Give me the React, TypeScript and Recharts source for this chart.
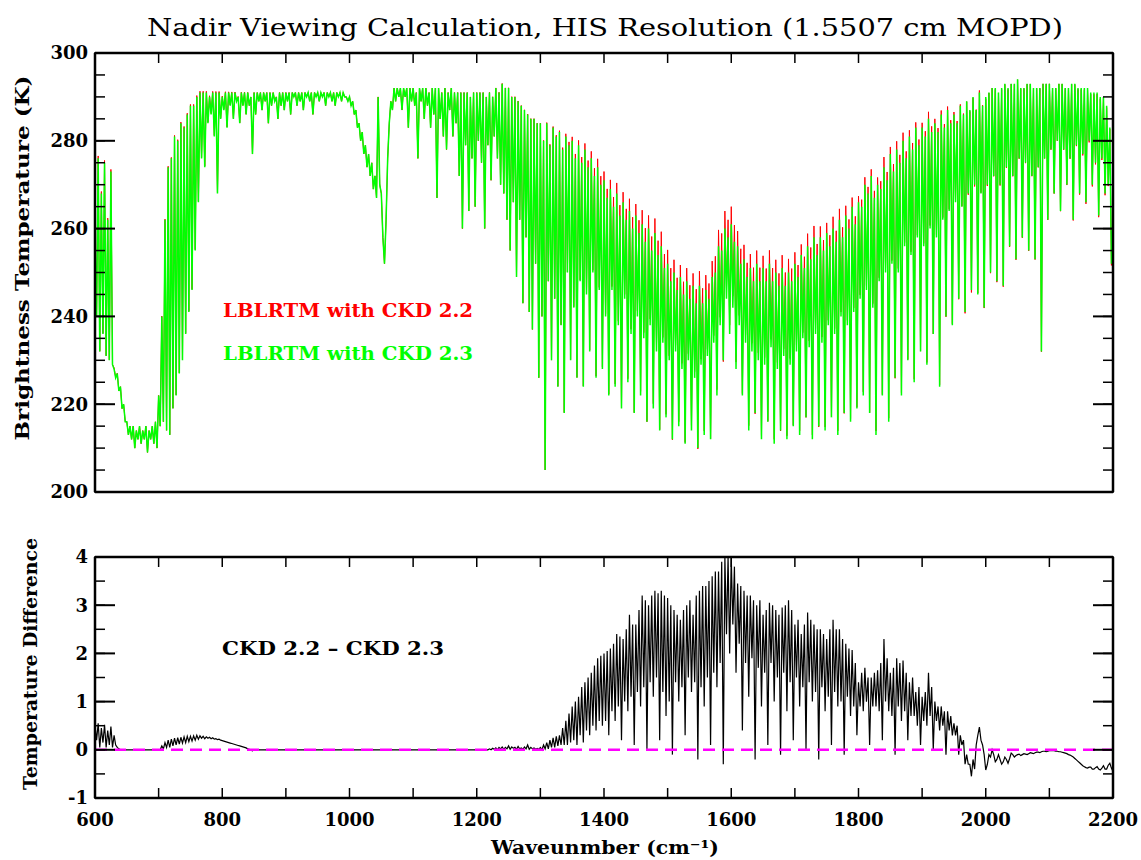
import { LineChart, Line, XAxis, YAxis, ReferenceLine } from "recharts";

// spectral grid: 600 .. 2200 cm-1, one sample every 2.5 cm-1 (20 samples per row below)
const WN_START = 600;
const WN_STEP = 2.5;

// Brightness temperature (K), LBLRTM with CKD 2.3
const ckd23 = [
    258, 240, 276, 232, 268, 236, 275, 231, 262, 230, 273, 229, 228, 226, 227, 223, 224, 219, 220, 216, // 600
    216, 213, 215, 212, 215, 210, 214, 212, 215, 211, 214, 212, 215, 209, 214, 212, 215, 211, 216, 210, // 650
    222, 215, 240, 216, 262, 214, 274, 213, 276, 219, 281, 222, 280, 227, 284, 230, 283, 236, 286, 241, // 700
    288, 246, 288, 255, 290, 266, 291, 276, 291, 274, 291, 284, 290, 286, 291, 281, 291, 268, 291, 285, // 750
    290, 287, 291, 283, 291, 288, 291, 285, 291, 289, 290, 284, 291, 288, 291, 286, 291, 288, 290, 277, // 800
    291, 286, 291, 289, 291, 287, 291, 289, 291, 284, 291, 288, 291, 289, 290, 285, 291, 288, 291, 287, // 850
    291, 289, 291, 286, 291, 290, 291, 288, 291, 289, 291, 287, 291, 290, 291, 289, 291, 286, 291, 290, // 900
    291, 289, 291, 290, 291, 288, 291, 290, 291, 289, 291, 288, 291, 290, 291, 289, 291, 290, 290, 289, // 950
    290, 288, 289, 286, 287, 283, 284, 280, 282, 277, 279, 274, 277, 272, 275, 269, 272, 267, 290, 270, // 1000
    268, 258, 252, 262, 276, 284, 289, 287, 292, 289, 292, 290, 292, 287, 292, 290, 292, 283, 292, 289, // 1050
    292, 288, 291, 276, 292, 289, 292, 285, 292, 288, 291, 283, 292, 286, 292, 267, 292, 285, 291, 281, // 1100
    292, 278, 291, 287, 292, 281, 291, 284, 291, 272, 291, 260, 291, 279, 291, 264, 290, 276, 291, 265, // 1150
    291, 280, 291, 275, 291, 260, 290, 279, 291, 271, 290, 281, 292, 276, 291, 270, 293, 268, 292, 262, // 1200
    292, 255, 290, 266, 290, 249, 289, 262, 288, 243, 287, 258, 286, 241, 285, 237, 285, 252, 284, 226, // 1250
    284, 240, 280, 205, 284, 248, 279, 230, 283, 244, 281, 224, 282, 238, 278, 218, 281, 250, 279, 230, // 1300
    280, 242, 276, 226, 279, 248, 275, 224, 278, 245, 274, 232, 276, 250, 272, 226, 274, 246, 270, 228, // 1350
    271, 240, 267, 222, 269, 246, 265, 224, 268, 238, 263, 219, 266, 244, 262, 225, 264, 236, 260, 218, // 1400
    263, 240, 259, 222, 261, 235, 257, 216, 260, 238, 255, 219, 259, 232, 254, 214, 256, 234, 251, 217, // 1450
    252, 230, 248, 212, 250, 232, 246, 215, 249, 228, 245, 211, 248, 230, 244, 214, 247, 226, 243, 210, // 1500
    247, 229, 243, 213, 246, 231, 244, 212, 249, 234, 250, 222, 256, 238, 255, 230, 260, 244, 258, 236, // 1550
    261, 242, 257, 228, 256, 238, 252, 222, 253, 234, 249, 214, 251, 232, 248, 218, 252, 230, 248, 212, // 1600
    251, 229, 248, 216, 252, 233, 248, 211, 250, 228, 247, 214, 251, 231, 247, 212, 250, 229, 248, 215, // 1650
    252, 232, 249, 213, 254, 235, 251, 217, 256, 233, 253, 212, 258, 236, 254, 215, 258, 234, 255, 214, // 1700
    259, 238, 256, 217, 260, 236, 257, 213, 262, 240, 258, 218, 263, 238, 260, 216, 265, 241, 261, 219, // 1750
    266, 244, 265, 222, 270, 246, 268, 218, 272, 242, 267, 213, 270, 248, 269, 222, 274, 250, 271, 216, // 1800
    277, 252, 273, 226, 278, 250, 275, 222, 280, 256, 276, 230, 281, 254, 278, 225, 283, 258, 279, 232, // 1850
    283, 256, 281, 229, 285, 260, 282, 236, 284, 258, 282, 224, 286, 262, 283, 240, 287, 264, 284, 238, // 1900
    286, 266, 284, 244, 288, 265, 286, 241, 289, 268, 287, 246, 290, 270, 287, 245, 291, 268, 288, 242, // 1950
    290, 270, 291, 250, 292, 272, 292, 248, 291, 270, 292, 247, 293, 274, 292, 256, 293, 272, 293, 253, // 2000
    294, 276, 292, 258, 292, 275, 293, 255, 293, 272, 292, 253, 292, 274, 292, 232, 293, 276, 293, 262, // 2050
    293, 278, 292, 268, 292, 280, 293, 264, 293, 278, 292, 270, 292, 276, 293, 262, 293, 279, 292, 268, // 2100
    292, 277, 292, 266, 292, 280, 291, 270, 291, 275, 291, 263, 290, 276, 290, 268, 288, 270, 283, 252, // 2150
    262,
];

// CKD 2.2 - CKD 2.3 (K)
const ckdDiff = [
    0.5, 0.2, 0.55, 0.05, 0.45, 0.15, 0.52, 0.05, 0.4, 0.1, 0.48, 0.05, 0.3, 0.1, 0.05, 0.02, 0, 0, 0, 0, // 600
    0, 0, 0, 0, 0, 0, 0, 0, 0, 0, 0, 0, 0, 0, 0, 0, 0, 0, 0, 0, // 650
    0, 0, 0.08, 0.02, 0.15, 0.05, 0.2, 0.05, 0.22, 0.08, 0.24, 0.1, 0.25, 0.12, 0.26, 0.14, 0.27, 0.15, 0.28, 0.17, // 700
    0.28, 0.18, 0.29, 0.2, 0.3, 0.22, 0.29, 0.24, 0.28, 0.23, 0.27, 0.24, 0.26, 0.23, 0.25, 0.22, 0.23, 0.21, 0.22, 0.2, // 750
    0.19, 0.18, 0.17, 0.16, 0.15, 0.14, 0.13, 0.12, 0.11, 0.1, 0.09, 0.08, 0.07, 0.06, 0.05, 0.04, 0.02, 0.01, -0.01, -0.02, // 800
    0, 0, 0, 0, 0, 0, 0, 0, 0, 0, 0, 0, 0, 0, 0, 0, 0, 0, 0, 0, // 850
    0, 0, 0, 0, 0, 0, 0, 0, 0, 0, 0, 0, 0, 0, 0, 0, 0, 0, 0, 0, // 900
    0, 0, 0, 0, 0, 0, 0, 0, 0, 0, 0, 0, 0, 0, 0, 0, 0, 0, 0, 0, // 950
    0, 0, 0, 0, 0, 0, 0, 0, 0, 0, 0, 0, 0, 0, 0, 0, 0, 0, 0, 0, // 1000
    0, 0, 0, 0, 0, 0, 0, 0, 0, 0, 0, 0, 0, 0, 0, 0, 0, 0, 0, 0, // 1050
    0, 0, 0, 0, 0, 0, 0, 0, 0, 0, 0, 0, 0, 0, 0, 0, 0, 0, 0, 0, // 1100
    0, 0, 0, 0, 0, 0, 0, 0, 0, 0, 0, 0, 0, 0, 0, 0, 0, 0, 0, 0, // 1150
    0, 0, 0, 0, 0, 0, 0, 0, 0.02, 0, 0.03, 0.01, 0.04, 0, 0.05, 0.02, 0.06, 0.01, 0.05, 0.02, // 1200
    0.08, 0.01, 0.06, 0.03, 0.05, 0.01, 0.07, 0.02, 0.04, 0.01, 0.06, 0.02, 0.1, 0.01, 0.05, 0.02, 0.04, 0.01, 0.03, 0.01, // 1250
    0.05, 0.0, 0.1, 0.02, 0.15, 0.02, 0.2, 0.05, 0.25, 0.05, 0.28, 0.08, 0.3, 0.1, 0.45, 0.1, 0.6, 0.1, 0.75, 0.15, // 1300
    0.9, 0.2, 1.0, 0.1, 1.1, 0.3, 1.3, 0.15, 1.4, 0.4, 1.5, 0.3, 1.6, 0.5, 1.75, 0.4, 1.9, 0.6, 1.95, 0.5, // 1350
    2.0, 0.6, 2.05, 0.3, 2.1, 0.8, 2.2, 0.6, 2.4, 0.9, 2.35, 0.2, 2.3, 1.0, 2.5, 0.8, 2.8, 1.1, 2.6, 0.1, // 1400
    2.6, 1.2, 2.9, 0.9, 3.2, 1.3, 3.1, 0.0, 3.0, 1.4, 3.2, 1.1, 3.3, 1.5, 3.25, 0.2, 3.3, 1.2, 3.2, 0.7, // 1450
    3.15, 1.0, 3.0, -0.1, 2.9, 1.4, 2.8, 1.0, 2.7, 1.3, 2.9, 0.3, 3.0, 1.5, 3.1, 1.2, 2.8, 1.4, 3.2, -0.2, // 1500
    3.3, 1.3, 3.4, 0.9, 3.4, 1.5, 3.5, 0.1, 3.6, 1.6, 3.7, 1.3, 3.7, 1.8, 3.9, -0.3, 4.0, 2.4, 4.0, 2.0, // 1550
    4.0, 2.6, 3.8, 1.6, 3.45, 2.2, 3.4, 0.4, 3.3, 1.8, 3.2, 1.1, 3.2, 1.9, 3.1, -0.2, 3.0, 1.7, 3.1, 0.9, // 1600
    2.8, 1.6, 2.9, 0.1, 3.05, 1.8, 3.0, 1.0, 2.9, 1.5, 2.8, -0.1, 2.95, 1.6, 3.0, 0.8, 3.1, 1.4, 2.9, 0.2, // 1650
    2.6, 1.5, 2.7, 0.9, 2.4, 1.3, 2.6, 0.0, 2.85, 1.4, 2.7, 1.0, 2.6, 1.2, 2.5, -0.2, 2.5, 1.3, 2.4, 0.8, // 1700
    2.3, 1.1, 2.5, 0.1, 2.7, 1.2, 2.5, 0.9, 2.5, 1.0, 2.3, -0.1, 2.2, 1.1, 2.1, 0.7, 2.07, 0.9, 1.8, 0.3, // 1750
    1.4, 0.9, 1.6, 0.8, 1.7, 1.0, 1.5, 0.1, 1.5, 0.9, 1.6, 0.9, 1.65, 0.8, 1.8, 0.2, 2.3, 1.0, 1.9, 0.8, // 1800
    1.6, 0.7, 1.7, -0.1, 1.9, 0.9, 1.8, 0.6, 1.85, 0.8, 1.6, 0.2, 1.4, 0.7, 1.5, 0.7, 1.2, 0.5, 1.3, 0.1, // 1850
    1.1, 0.6, 1.2, 0.5, 1.6, 0.7, 1.3, 0.0, 1.0, 0.6, 0.9, 0.4, 0.9, 0.5, 0.8, -0.1, 0.8, 0.4, 0.7, 0.3, // 1900
    0.55, 0.3, 0.5, -0.1, 0.3, 0.1, 0.2, -0.3, -0.1, -0.3, -0.3, -0.55, -0.2, -0.4, 0.1, 0.3, 0.47, 0.2, 0.1, -0.1, // 1950
    -0.42, -0.3, -0.1, -0.15, 0.0, -0.1, -0.25, -0.2, -0.1, -0.2, -0.3, -0.25, -0.15, -0.2, -0.28, -0.18, -0.07, -0.1, -0.15, -0.12, // 2000
    -0.1, -0.09, -0.12, -0.1, -0.08, -0.09, -0.1, -0.08, -0.06, -0.07, -0.08, -0.06, -0.05, -0.05, -0.06, -0.04, -0.03, -0.03, -0.04, -0.03, // 2050
    -0.02, -0.02, -0.02, -0.02, -0.03, -0.03, -0.04, -0.04, -0.05, -0.06, -0.07, -0.08, -0.1, -0.11, -0.13, -0.15, -0.18, -0.21, -0.24, -0.27, // 2100
    -0.3, -0.33, -0.35, -0.37, -0.38, -0.36, -0.36, -0.4, -0.4, -0.37, -0.35, -0.4, -0.42, -0.38, -0.33, -0.4, -0.4, -0.32, -0.28, -0.38, // 2150
    -0.45,
];

const xTicks = [600, 700, 800, 900, 1000, 1100, 1200, 1300, 1400, 1500, 1600, 1700, 1800, 1900, 2000, 2100, 2200];
const xLabelled = [600, 800, 1000, 1200, 1400, 1600, 1800, 2000, 2200];

const btMajor = [200, 220, 240, 260, 280, 300];
const btMinor = [200, 205, 210, 215, 220, 225, 230, 235, 240, 245, 250, 255, 260, 265, 270, 275, 280, 285, 290, 295, 300];
const diffMajor = [-1, 0, 1, 2, 3, 4];
const diffMinor = [-1, -0.5, 0, 0.5, 1, 1.5, 2, 2.5, 3, 3.5, 4];

const TITLE = "Nadir Viewing Calculation, HIS Resolution (1.5507 cm MOPD)";

// CKD 2.2 curve = CKD 2.3 curve + plotted difference
const spectrum = ckd23.map((t, i) => ({
    wn: WN_START + i * WN_STEP,
    ckd23: t,
    ckd22: t + ckdDiff[i],
    diff: ckdDiff[i],
}));

const FONT = '"DejaVu Serif", "Liberation Serif", serif';
const tickStyle = { fontSize: 18, fontFamily: FONT, fontWeight: 700, fill: "#000" };
const blank = () => "";

// axes are 1px wide/high (0 would not be drawn), the margins make up for it
function frameAxes(yDomain: number[], major: number[], minor: number[], withXLabels: boolean) {
    return [
        <XAxis key="xb" xAxisId="b" dataKey="wn" type="number" domain={[600, 2200]} ticks={xTicks} interval={0}
            height={1} tickSize={-10} tickMargin={25} allowDataOverflow stroke="#000"
            axisLine={{ strokeWidth: 2.5 }} tickLine={{ strokeWidth: 1.5 }}
            tick={withXLabels ? tickStyle : false}
            tickFormatter={(v: number) => (xLabelled.includes(v) ? String(v) : "")} />,
        <XAxis key="xt" xAxisId="t" orientation="top" dataKey="wn" type="number" domain={[600, 2200]} ticks={xTicks}
            interval={0} height={1} tickSize={-10} allowDataOverflow stroke="#000"
            axisLine={{ strokeWidth: 2.5 }} tickLine={{ strokeWidth: 1.5 }} tickFormatter={blank} />,
        <YAxis key="yl" yAxisId="l" type="number" domain={yDomain} ticks={major} interval={0} width={1}
            tickSize={-20} tickMargin={27} allowDataOverflow stroke="#000" tick={tickStyle}
            axisLine={{ strokeWidth: 2.5 }} tickLine={{ strokeWidth: 2 }} />,
        <YAxis key="ylm" yAxisId="lm" type="number" domain={yDomain} ticks={minor} interval={0} width={1}
            tickSize={-11} allowDataOverflow stroke="#000" axisLine={false}
            tickLine={{ strokeWidth: 1.5 }} tickFormatter={blank} />,
        <YAxis key="yr" yAxisId="r" orientation="right" type="number" domain={yDomain} ticks={major} interval={0}
            width={1} tickSize={-20} allowDataOverflow stroke="#000"
            axisLine={{ strokeWidth: 2.5 }} tickLine={{ strokeWidth: 2 }} tickFormatter={blank} />,
        <YAxis key="yrm" yAxisId="rm" orientation="right" type="number" domain={yDomain} ticks={minor} interval={0}
            width={1} tickSize={-11} allowDataOverflow stroke="#000" axisLine={false}
            tickLine={{ strokeWidth: 1.5 }} tickFormatter={blank} />,
    ];
}

export default function App() {
    return (
        <div style={{ position: "absolute", left: 0, top: 0, width: 1141, height: 860, background: "#fff", overflow: "hidden" }}>
            {/* upper panel: brightness temperature */}
            <div style={{ position: "absolute", left: 0, top: 0 }}>
                <LineChart width={1141} height={520} data={spectrum} margin={{ top: 52, right: 26, bottom: 27, left: 93 }}>
                    {frameAxes([200, 300], btMajor, btMinor, false)}
                    <Line xAxisId="b" yAxisId="l" dataKey="ckd22" stroke="#ff0000" strokeWidth={1} dot={false} isAnimationActive={false} />
                    <Line xAxisId="b" yAxisId="l" dataKey="ckd23" stroke="#00ff00" strokeWidth={1.5} dot={false} isAnimationActive={false} />
                </LineChart>
            </div>

            {/* lower panel: difference */}
            <div style={{ position: "absolute", left: 0, top: 0 }}>
                <LineChart width={1141} height={860} data={spectrum} margin={{ top: 556, right: 26, bottom: 61, left: 93 }}>
                    {frameAxes([-1, 4], diffMajor, diffMinor, true)}
                    <Line xAxisId="b" yAxisId="l" dataKey="diff" stroke="#000" strokeWidth={1.2} dot={false} isAnimationActive={false} />
                    <ReferenceLine xAxisId="b" yAxisId="l" y={0} stroke="#ff00ff" strokeWidth={2.5} strokeDasharray="12 7" />
                </LineChart>
            </div>

            <svg width={1141} height={860} style={{ position: "absolute", left: 0, top: 0, pointerEvents: "none" }}>
                <text x={605} y={36} textAnchor="middle" fontFamily={FONT} fontSize={24} textLength={916} lengthAdjust="spacingAndGlyphs">
                    {TITLE}
                </text>
                <text transform="translate(29,258) rotate(-90)" textAnchor="middle" fontFamily={FONT} fontSize={18}
                    fontWeight={700} textLength={365} lengthAdjust="spacingAndGlyphs">
                    Brightness Temperature (K)
                </text>
                <text transform="translate(37,664) rotate(-90)" textAnchor="middle" fontFamily={FONT} fontSize={18}
                    fontWeight={700} textLength={252} lengthAdjust="spacingAndGlyphs">
                    Temperature Difference
                </text>
                <text x={605} y={854} textAnchor="middle" fontFamily={FONT} fontSize={19} fontWeight={700}
                    textLength={228} lengthAdjust="spacingAndGlyphs">
                    Waveunmber (cm⁻¹)
                </text>
                <text x={223} y={317} fontFamily={FONT} fontSize={18} fontWeight={700} fill="#ff0000"
                    textLength={250} lengthAdjust="spacingAndGlyphs">
                    LBLRTM with CKD 2.2
                </text>
                <text x={223} y={360} fontFamily={FONT} fontSize={18} fontWeight={700} fill="#00ff00"
                    textLength={250} lengthAdjust="spacingAndGlyphs">
                    LBLRTM with CKD 2.3
                </text>
                <text x={222} y={655} fontFamily={FONT} fontSize={18} fontWeight={700}
                    textLength={222} lengthAdjust="spacingAndGlyphs">
                    CKD 2.2 – CKD 2.3
                </text>
            </svg>
        </div>
    );
}
